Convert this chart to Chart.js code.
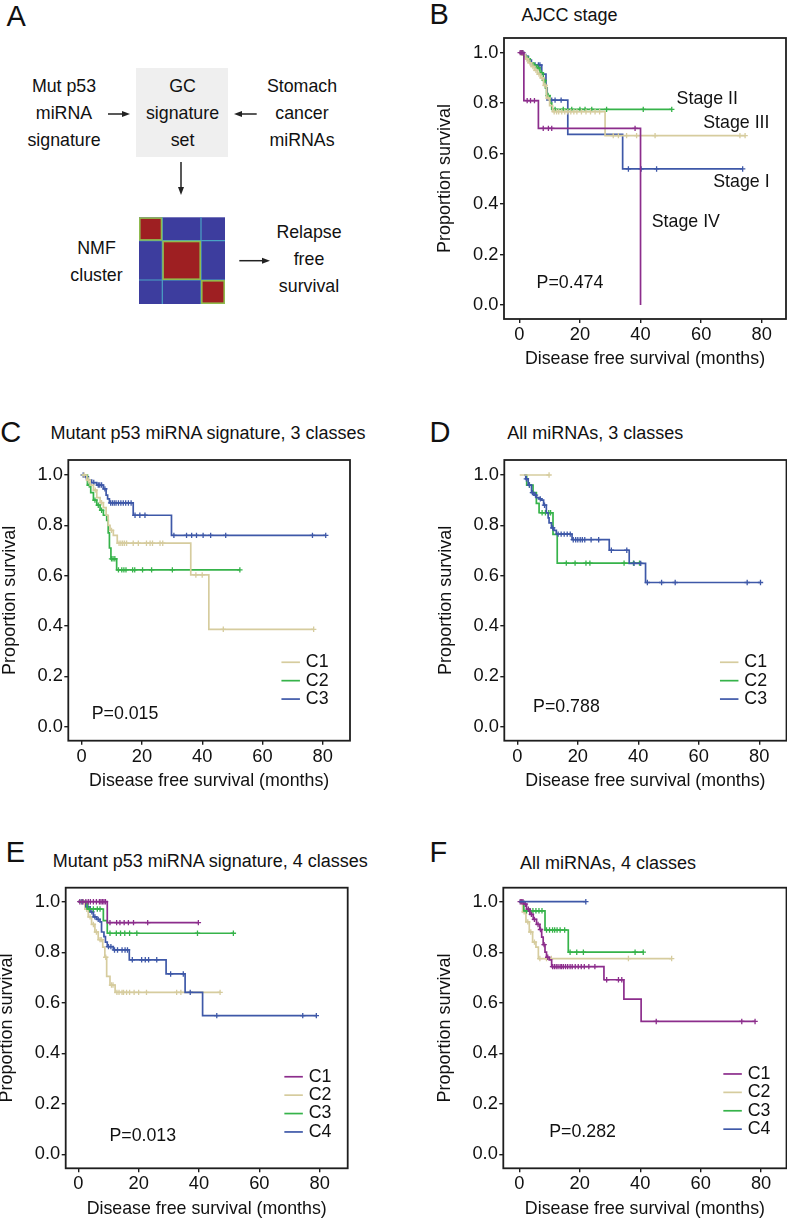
<!DOCTYPE html>
<html>
<head>
<meta charset="utf-8">
<script src="https://cdn.jsdelivr.net/npm/chart.js@4.4.1/dist/chart.umd.min.js"></script>
<style>
  html, body { margin: 0; padding: 0; background: #fff; }
  body { position: relative; width: 787px; height: 1219px; overflow: hidden;
         font-family: "Liberation Sans", Arial, sans-serif; color: #111; }
  .t { position: absolute; font-size: 17.8px; white-space: nowrap; width: 120px; text-align: center; }
  .letter { position: absolute; font-size: 29px; line-height: 29px; }
  .title { position: absolute; font-size: 18px; line-height: 18px; white-space: nowrap; }
  .panel { position: absolute; }
</style>
</head>
<body>

<!-- panel letters and titles -->
<div class="letter" style="left:6.5px;top:2.2px">A</div>
<div class="letter" style="left:429.6px;top:-0.5px">B</div>
<div class="letter" style="left:0.3px;top:417.9px">C</div>
<div class="letter" style="left:429.4px;top:417.9px">D</div>
<div class="letter" style="left:5.7px;top:837.9px">E</div>
<div class="letter" style="left:429.4px;top:837.9px">F</div>

<div class="title" style="left:521.5px;top:6px">AJCC stage</div>
<div class="title" style="left:50.4px;top:424.4px">Mutant p53 miRNA signature, 3 classes</div>
<div class="title" style="left:507.3px;top:424.4px">All miRNAs, 3 classes</div>
<div class="title" style="left:52.7px;top:851.7px">Mutant p53 miRNA signature, 4 classes</div>
<div class="title" style="left:520px;top:854.4px">All miRNAs, 4 classes</div>

<!-- panel A: workflow sketch -->
<div style="position:absolute;left:136px;top:67.7px;width:91.7px;height:89px;background:#efefef"></div>
<svg style="position:absolute;left:0;top:0" width="400" height="330">
  <g stroke="#222" stroke-width="1.5" fill="#222">
    <line x1="108" y1="114" x2="124" y2="114"/>
    <polygon stroke="none" points="130,114 122,111 122,117"/>
    <line x1="256.7" y1="114" x2="240" y2="114"/>
    <polygon stroke="none" points="234,114 242,111 242,117"/>
    <line x1="181" y1="162" x2="181" y2="188"/>
    <polygon stroke="none" points="181,195 178,187 184,187"/>
    <line x1="239.3" y1="260.7" x2="263" y2="260.7"/>
    <polygon stroke="none" points="270,260.7 262,257.7 262,263.7"/>
  </g>
  <rect x="139" y="217.3" width="86" height="86.7" fill="#3d3d9e"/>
  <g stroke="#4aa3c4" stroke-width="1.2">
    <line x1="162.3" y1="217.3" x2="162.3" y2="304"/>
    <line x1="201" y1="217.3" x2="201" y2="304"/>
    <line x1="139" y1="240.7" x2="225" y2="240.7"/>
    <line x1="139" y1="280" x2="225" y2="280"/>
  </g>
  <g fill="#9e1f22" stroke="#8fbb4e" stroke-width="1.6">
    <rect x="139.8" y="218.1" width="21.7" height="21.8"/>
    <rect x="163.1" y="241.5" width="37.1" height="37.7"/>
    <rect x="201.8" y="280.8" width="22.4" height="22.4"/>
  </g>
</svg>
<div class="t" style="left:4px;top:72.5px;line-height:27px">Mut p53<br>miRNA<br>signature</div>
<div class="t" style="left:122.5px;top:72.5px;line-height:27px">GC<br>signature<br>set</div>
<div class="t" style="left:242px;top:72.5px;line-height:27px">Stomach<br>cancer<br>miRNAs</div>
<div class="t" style="left:36.5px;top:235.3px;line-height:26.5px">NMF<br>cluster</div>
<div class="t" style="left:249px;top:219px;line-height:26.8px">Relapse<br>free<br>survival</div>

<script>
// axis ticks
const monthTicks = [0, 20, 40, 60, 80];
const survivalTicks = [0, 0.2, 0.4, 0.6, 0.8, 1.0];

// B: AJCC stage -- steps are [months, survival], censor marks are months
const bStageI = [[0,1],[1.5,0.985],[3,0.97],[4,0.951],[7.4,0.915],[8.8,0.86],[9.2,0.812],[16,0.676],[34.1,0.539]];
const bStageICens = [2.2,5.2,6.3,6.8,10.7,11.8,13.8,36,40.2,45.3,73.7];
const bStageII = [[0,1],[1.5,0.985],[2.4,0.975],[3.5,0.96],[4.5,0.95],[5.7,0.94],[6.8,0.92],[7.9,0.89],[8.6,0.86],[9,0.83],[10.1,0.8],[10.7,0.775]];
const bStageIICens = [1,3,5,6.2,7.3,8.2,9.5,11.8,14.5,17.3,20,21.7,23.9,28.8,40.9,50.3];
const bStageIII = [[0,1],[1,0.99],[2,0.975],[3,0.96],[4,0.945],[5,0.93],[6,0.915],[7,0.9],[8,0.87],[9,0.82],[10,0.79],[11,0.766],[28.3,0.671]];
const bStageIIICens = [0.5,1.5,2.5,3.5,4.5,5.5,6.5,7.5,8.5,9.5,11.5,12.3,13,14,15,16,17,18,19,20.5,22,23.5,25,26.5,31,32.7,35.4,38.7,44.8,72.8,74.5];
const bStageIV = [[0,1],[1.5,0.81],[6.3,0.7],[40,0]];
const bStageIVCens = [0.3,0.8,1.2,2.6,3.7,5,7.9,9.6,10.7,38.2];

// C: mutant p53 miRNA signature, 3 classes
const cC1 = [[0,1],[1.7,0.98],[2.8,0.96],[3.9,0.94],[5,0.91],[6.1,0.89],[7.2,0.87],[8.1,0.84],[8.8,0.8],[9.4,0.78],[10.5,0.76],[11.8,0.729],[36.2,0.603],[42.2,0.387]];
const cC1Cens = [0.8,2.2,4.5,6.6,9.9,12.4,13,13.6,14.2,14.9,17.1,18.8,21.5,22.7,23.5,26,26.9,37.9,40,47,77];
const cC2 = [[0,1],[1.9,0.96],[3,0.93],[3.9,0.9],[5,0.88],[6.1,0.86],[7.2,0.84],[8.3,0.82],[8.8,0.77],[9.2,0.71],[9.7,0.667],[11.6,0.623]];
const cC2Cens = [2.5,4.4,5.5,6.6,9.9,10.4,11,12.2,13.3,14,14.7,16.9,17.6,20.2,23.2,30.1,52.5];
const cC3 = [[0,1],[1.1,0.993],[2.2,0.98],[3.3,0.97],[5,0.96],[7.2,0.945],[8.1,0.92],[8.6,0.905],[9.2,0.889],[17.1,0.84],[29.8,0.76]];
const cC3Cens = [0.5,1.5,4,5.5,6,6.6,7.7,9.6,10.2,10.8,11.4,12.2,13,13.8,14.6,15.5,16.4,17.7,19.3,21,30.6,34.8,36.5,38.1,40.3,42.8,47.8,76.6,81];

// D: all miRNAs, 3 classes
const dC1 = [[0.8,1]];
const dC1Cens = [10.5];
const dC2 = [[2.4,1],[3.1,0.96],[5.2,0.93],[6.3,0.887],[7.2,0.85],[11.8,0.764],[13.2,0.65]];
const dC2Cens = [4,8.2,9.3,10.4,11,16.2,19.1,22.7,24,35.3,38.4,40.4];
const dC3 = [[2.2,1],[2.8,0.985],[3.6,0.96],[4.7,0.93],[5.5,0.92],[6.3,0.91],[7.2,0.905],[8,0.9],[8.7,0.88],[9.6,0.85],[10.2,0.83],[10.5,0.81],[11.3,0.79],[12.1,0.78],[12.9,0.765],[18.1,0.743],[30.4,0.701],[37,0.649],[42.4,0.573]];
const dC3Cens = [3,4,5,6,7.6,9,11.7,13.5,14.5,15.5,16.5,17.5,18.5,19.3,20,20.8,21.5,22.3,24.4,26.9,31.1,36.2,38.6,40.8,43,47.7,52.2,76,80.4];

// E: mutant p53 miRNA signature, 4 classes
const eC1 = [[0,1],[9.6,0.917]];
const eC1Cens = [0.5,1.5,2.5,3.3,4,5,6,7,7.5,8,8.5,9,10.5,12.7,13.8,15.2,16.6,18.3,23,39.8];
const eC2 = [[0,1],[2.2,0.97],[3.3,0.94],[4.4,0.91],[5.5,0.88],[6.6,0.85],[8.1,0.82],[8.8,0.78],[9.4,0.704],[10.5,0.67],[12.2,0.641]];
const eC2Cens = [1,1.6,2.8,3.9,5,6,7.2,7.6,9.1,11,11.5,12.8,13.5,14.5,15,16,17,18.5,20,22.6,32.6,34,47];
const eC3 = [[0,1],[2.9,0.971],[8.3,0.925],[9.6,0.875]];
const eC3Cens = [3.7,5,6.3,7.2,10.5,12.6,14,15.4,17,19.4,39.5,51.4];
const eC4 = [[0,1],[2.5,0.98],[3.9,0.96],[5,0.94],[6.1,0.93],[7.2,0.92],[7.7,0.88],[8.5,0.862],[9,0.84],[9.6,0.822],[11.6,0.809],[16.9,0.77],[29.1,0.714],[35.4,0.641],[41.2,0.549]];
const eC4Cens = [1.2,3.2,4.5,5.5,6.6,10,10.8,12,13,14.5,15.5,16.3,17.9,21,22.2,23.3,26,30.6,34.8,37.1,45.9,74.4,78.9];

// F: all miRNAs, 4 classes
const fC1 = [[0,1],[1.5,0.99],[2.4,0.97],[3.5,0.95],[4.6,0.93],[5.7,0.91],[6.8,0.89],[7.4,0.86],[7.9,0.83],[8.5,0.8],[9,0.78],[9.9,0.77],[10.7,0.743],[28,0.691],[34.6,0.614],[40.3,0.526]];
const fC1Cens = [0.3,0.8,1.2,2,3,4,5,6.2,7,8.2,9.4,11,11.6,12.2,12.8,13.5,14,14.6,15.3,16,16.8,17.5,18.5,19.5,20.5,21.5,23,25,28.9,32.8,33.9,45.3,73.6,78];
const fC2 = [[0,1],[1.1,0.96],[2.2,0.92],[3.3,0.88],[4.4,0.84],[5.5,0.82],[6.3,0.775]];
const fC2Cens = [0.6,1.6,2.8,3.8,5,6.8,9,10.6,36.1,50.4];
const fC3 = [[0,1],[1.5,0.964],[8.5,0.888],[16.2,0.8]];
const fC3Cens = [2.4,3.5,4.5,5.5,6.5,7.5,9,10,11,11.7,12.5,13.5,15,16.8,19,21.2,38.3,41];
const fC4 = [[0,1]];
const fC4Cens = [22];

const purple = '#8c2d8c', tan = '#d6cc9e', green = '#36b34a', blue = '#3e58a8';
const FONT = '"Liberation Sans", Arial, sans-serif';
Chart.defaults.font.family = FONT;
Chart.defaults.color = '#111';

// step points plus censor marks (survival at a censor time = current step)
function kmPoints(steps, cens) {
  const pts = steps.map(([x, y]) => ({x, y, c: false}));
  cens.forEach(t => {
    let s = steps[0][1];
    steps.forEach(([x, y]) => { if (x <= t) s = y; });
    pts.push({x: t, y: s, c: true});
  });
  pts.sort((a, b) => a.x - b.x || (a.c - b.c));
  return pts;
}

const panels = [
  { box: {l: 504, t: 38, r: 786, b: 319}, x: [-5.05, 88.0], y: [-0.0555, 1.058],
    curves: [
      {label: 'Stage IV', color: purple, steps: bStageIV, cens: bStageIVCens},
      {label: 'Stage III', color: tan, steps: bStageIII, cens: bStageIIICens},
      {label: 'Stage II', color: green, steps: bStageII, cens: bStageIICens},
      {label: 'Stage I', color: blue, steps: bStageI, cens: bStageICens}
    ],
    notes: [
      {text: 'Stage II', x: 51.9, y: 0.815}, {text: 'Stage III', x: 60.7, y: 0.72},
      {text: 'Stage I', x: 64.0, y: 0.485}, {text: 'Stage IV', x: 43.7, y: 0.33},
      {text: 'P=0.474', x: 5.7, y: 0.086}
    ] },
  { box: {l: 68.3, t: 460, r: 350, b: 740.7}, x: [-4.45, 89.06], y: [-0.0556, 1.0596],
    curves: [
      {label: 'C1', color: tan, steps: cC1, cens: cC1Cens},
      {label: 'C2', color: green, steps: cC2, cens: cC2Cens},
      {label: 'C3', color: blue, steps: cC3, cens: cC3Cens}
    ],
    notes: [{text: 'P=0.015', x: 3.3, y: 0.05}],
    legend: {x: 66.3, y: 0.256, items: [['C1', tan], ['C2', green], ['C3', blue]]} },
  { box: {l: 504.3, t: 460, r: 786.5, b: 740.7}, x: [-4.3, 89.0], y: [-0.0556, 1.0596],
    curves: [
      {label: 'C1', color: tan, steps: dC1, cens: dC1Cens},
      {label: 'C3', color: blue, steps: dC3, cens: dC3Cens},
      {label: 'C2', color: green, steps: dC2, cens: dC2Cens}
    ],
    notes: [{text: 'P=0.788', x: 5.2, y: 0.076}],
    legend: {x: 67, y: 0.256, items: [['C1', tan], ['C2', green], ['C3', blue]]} },
  { box: {l: 65.7, t: 887.7, r: 347.7, b: 1168.3}, x: [-4.18, 89.3], y: [-0.0554, 1.0554],
    curves: [
      {label: 'C1', color: purple, steps: eC1, cens: eC1Cens},
      {label: 'C3', color: green, steps: eC3, cens: eC3Cens},
      {label: 'C4', color: blue, steps: eC4, cens: eC4Cens},
      {label: 'C2', color: tan, steps: eC2, cens: eC2Cens}
    ],
    notes: [{text: 'P=0.013', x: 10.3, y: 0.072}],
    legend: {x: 68.3, y: 0.307, items: [['C1', purple], ['C2', tan], ['C3', green], ['C4', blue]]} },
  { box: {l: 503.3, t: 887.7, r: 786.5, b: 1168.3}, x: [-5.3, 88.4], y: [-0.0554, 1.0554],
    curves: [
      {label: 'C4', color: blue, steps: fC4, cens: fC4Cens},
      {label: 'C1', color: purple, steps: fC1, cens: fC1Cens},
      {label: 'C3', color: green, steps: fC3, cens: fC3Cens},
      {label: 'C2', color: tan, steps: fC2, cens: fC2Cens}
    ],
    notes: [{text: 'P=0.282', x: 9.9, y: 0.086}],
    legend: {x: 67.5, y: 0.318, items: [['C1', purple], ['C2', tan], ['C3', green], ['C4', blue]]} }
];

function drawPanel(p) {
  const XH = 51;
  const left = Math.floor(p.box.l - 69.3);
  const top = Math.floor(p.box.t - 16);
  const yw = p.box.l - left;
  const W = Math.ceil(p.box.r - left + 4);
  const H = Math.ceil(p.box.b - top + XH);

  const wrap = document.createElement('div');
  wrap.className = 'panel';
  wrap.style.left = left + 'px';
  wrap.style.top = top + 'px';
  const cv = document.createElement('canvas');
  cv.width = W; cv.height = H;
  cv.style.width = W + 'px'; cv.style.height = H + 'px';
  wrap.appendChild(cv);
  document.body.appendChild(wrap);

  // frame, text notes and legend
  const frame = {
    id: 'frame',
    afterDraw(chart) {
      const {ctx, chartArea: a, scales: {x, y}} = chart;
      ctx.save();
      ctx.strokeStyle = '#1e1e1e';
      ctx.lineWidth = 1.8;
      ctx.strokeRect(a.left, a.top, a.right - a.left, a.bottom - a.top);
      ctx.font = '17.8px ' + FONT;
      ctx.fillStyle = '#111';
      ctx.textBaseline = 'middle';
      ctx.textAlign = 'left';
      p.notes.forEach(n => ctx.fillText(n.text, x.getPixelForValue(n.x), y.getPixelForValue(n.y)));
      if (p.legend) {
        const x0 = x.getPixelForValue(p.legend.x), y0 = y.getPixelForValue(p.legend.y);
        p.legend.items.forEach(([label, color], i) => {
          const yy = y0 + i * 18.4;
          ctx.strokeStyle = color;
          ctx.lineWidth = 1.7;
          ctx.beginPath(); ctx.moveTo(x0, yy); ctx.lineTo(x0 + 18.5, yy); ctx.stroke();
          ctx.fillText(label, x0 + 24.4, yy);
        });
      }
      ctx.restore();
    }
  };

  const axisGrid = {display: true, drawOnChartArea: false, drawTicks: true, tickLength: 4, color: '#1e1e1e', lineWidth: 1.4};

  new Chart(cv, {
    type: 'line',
    data: {
      datasets: p.curves.map(c => ({
        label: c.label,
        data: kmPoints(c.steps, c.cens),
        borderColor: c.color,
        borderWidth: 1.7,
        stepped: true,
        fill: false,
        pointStyle: 'cross',
        pointRadius: ctx => (ctx.raw && ctx.raw.c) ? 2.7 : 0,
        pointBorderColor: c.color,
        pointBorderWidth: 1.3,
        pointHoverRadius: 0,
        pointHitRadius: 0
      }))
    },
    options: {
      responsive: false,
      animation: false,
      devicePixelRatio: 1,
      events: [],
      layout: {padding: {left: 0, top: p.box.t - top, right: W - (p.box.r - left), bottom: H - (p.box.b - top) - XH}},
      plugins: {legend: {display: false}, tooltip: {enabled: false}},
      scales: {
        x: {
          type: 'linear', min: p.x[0], max: p.x[1],
          afterBuildTicks: s => { s.ticks = monthTicks.map(v => ({value: v})); },
          afterFit: s => { s.height = XH; },
          grid: axisGrid,
          border: {display: false},
          ticks: {font: {size: 18.3}, color: '#111', padding: 1, maxRotation: 0, autoSkip: false, callback: v => String(v)},
          title: {display: true, text: 'Disease free survival (months)', font: {size: 17.8}, color: '#111', padding: 0}
        },
        y: {
          type: 'linear', min: p.y[0], max: p.y[1],
          afterBuildTicks: s => { s.ticks = survivalTicks.map(v => ({value: v})); },
          afterFit: s => { s.width = yw; },
          grid: axisGrid,
          border: {display: false},
          ticks: {font: {size: 18.3}, color: '#111', padding: 1.5, autoSkip: false, callback: v => v.toFixed(1)},
          title: {display: true, text: 'Proportion survival', font: {size: 18}, color: '#111', padding: 0}
        }
      }
    },
    plugins: [frame]
  });
}

panels.forEach(drawPanel);
</script>
</body>
</html>
